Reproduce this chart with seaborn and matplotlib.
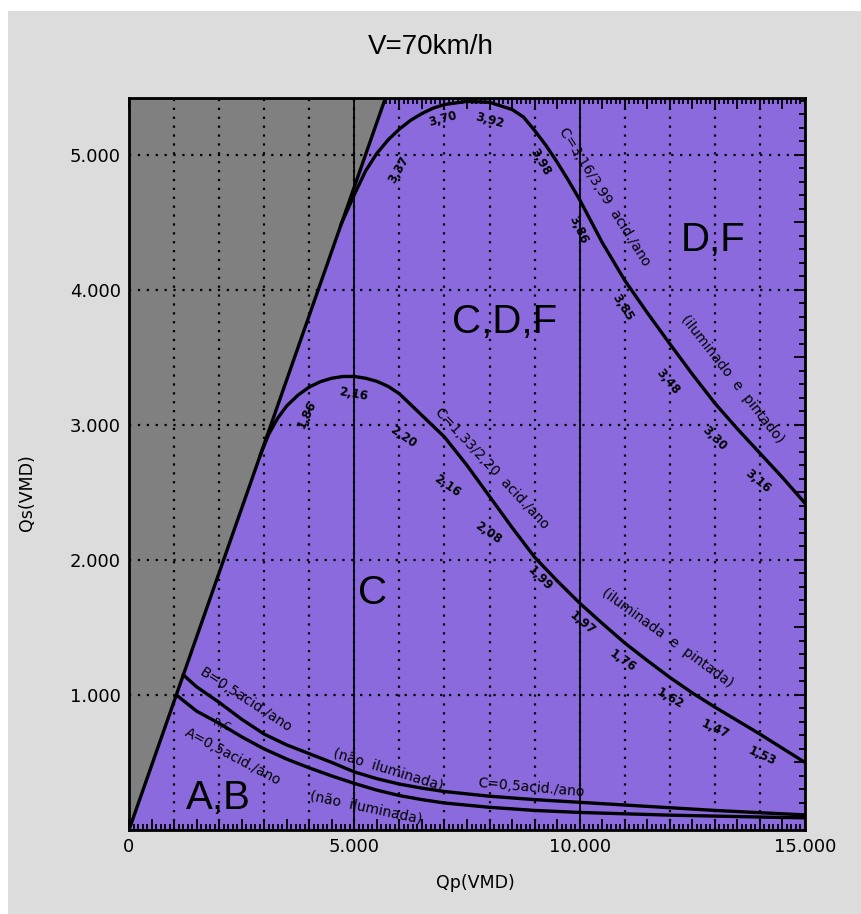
import matplotlib
matplotlib.use("Agg")
import matplotlib.pyplot as plt
import seaborn as sns
import pandas as pd
from matplotlib.ticker import MultipleLocator, FuncFormatter
from matplotlib.patches import Rectangle

# boundary of the grey (infeasible) zone, Qs vs Qp
boundary_qp = [0, 5690]
boundary_qs = [0, 5420]

# C = 3,16/3,99 acid./ano (iluminado e pintado)
upper_qp = [4700, 5000, 5250, 5500, 5750, 6000, 6250, 6500, 6750, 7000, 7500, 8000,
            8500, 8750, 9000, 9250, 9500, 9750, 10000, 10500, 11000, 11500, 12000,
            12500, 13000, 13500, 14000, 14500, 15000]
upper_qs = [4480, 4705, 4880, 5010, 5110, 5190, 5255, 5305, 5345, 5372, 5395, 5388,
            5335, 5280, 5180, 5070, 4945, 4810, 4667, 4350, 4070, 3830, 3600,
            3375, 3160, 2970, 2790, 2610, 2420]

# C = 1,33/2,20 acid./ano (iluminada e pintada)
lower_qp = [2900, 3100, 3300, 3500, 3750, 4000, 4250, 4500, 4750, 5000, 5250, 5500,
            5750, 6000, 6500, 7000, 7500, 8000, 8500, 9000, 9500, 10000, 10500,
            11000, 11500, 12000, 12500, 13000, 13500, 14000, 14500, 15000]
lower_qs = [2765, 2930, 3050, 3140, 3220, 3280, 3320, 3345, 3358, 3358, 3345, 3322,
            3285, 3230, 3070, 2910, 2700, 2470, 2240, 2020, 1845, 1680, 1530,
            1385, 1255, 1130, 1015, 910, 810, 710, 605, 500]

# B = 0,5 acid./ano (nao iluminada)
b_qp = [1200, 1500, 2000, 2500, 3000, 3500, 4000, 4500, 5000, 5500, 6000, 6500,
        7000, 8000, 9000, 10000, 11000, 12000, 13000, 14000, 15000]
b_qs = [1150, 1060, 945, 820, 710, 630, 565, 500, 430, 380, 340, 310,
        285, 250, 225, 205, 185, 165, 145, 128, 112]

# A = 0,5 acid./ano (nao iluminada)
a_qp = [1050, 1500, 2000, 2500, 3000, 3500, 4000, 4500, 5000, 5500, 6000, 6500,
        7000, 8000, 9000, 10000, 12000, 14000, 15000]
a_qs = [1000, 880, 790, 690, 600, 525, 460, 400, 345, 295, 255, 225,
        200, 168, 145, 130, 110, 96, 90]

upper_marks = ["3,37", "3,70", "3,92", "3,98", "3,86", "3,85", "3,48", "3,30", "3,16"]
lower_marks = ["1,86", "2,16", "2,20", "2,16", "2,08", "1,99", "1,97", "1,76", "1,62", "1,47", "1,53"]

PURPLE = "#8a6adc"
GREY = "#808080"
BG = "#dcdcdc"

sns.set_style("ticks", {"axes.facecolor": PURPLE, "axes.edgecolor": "black",
                        "text.color": "black", "xtick.color": "black", "ytick.color": "black"})
plt.rcParams["font.family"] = ["DejaVu Sans"]

fig = plt.figure(figsize=(8.61, 9.14), dpi=100, facecolor="white")
fig.patches.append(Rectangle((8 / 861, 0), 1, 1 - 11 / 914, transform=fig.transFigure,
                             facecolor=BG, edgecolor="none", zorder=-10))
ax = fig.add_axes([129 / 861, 84 / 914, 676 / 861, 732 / 914])

xmax, ymax = 15000, 5420
ax.set_xlim(0, xmax)
ax.set_ylim(0, ymax)

# grey zone left of the boundary
ax.fill_betweenx(boundary_qs, 0, boundary_qp, color=GREY, zorder=1)

# dotted grid, solid lines at 5.000 and 10.000
for gx in range(1000, 15000, 1000):
    ax.axvline(gx, color="black", lw=1.6, ls=(0, (1, 3)), zorder=2)
for gy in range(1000, 6000, 1000):
    ax.axhline(gy, color="black", lw=1.6, ls=(0, (1, 3)), zorder=2)
for sx in (5000, 10000):
    ax.axvline(sx, color="black", lw=1.3, zorder=3)

curves = [(boundary_qp, boundary_qs), (upper_qp, upper_qs), (lower_qp, lower_qs),
          (b_qp, b_qs), (a_qp, a_qs)]
for qp, qs in curves:
    df = pd.DataFrame({"Qp": qp, "Qs": qs})
    sns.lineplot(data=df, x="Qp", y="Qs", ax=ax, color="black", lw=2.4, zorder=4)

# ticks
ax.xaxis.set_major_locator(MultipleLocator(500))
ax.xaxis.set_minor_locator(MultipleLocator(100))
ax.yaxis.set_major_locator(MultipleLocator(500))
ax.yaxis.set_minor_locator(MultipleLocator(100))
fmt = FuncFormatter(lambda v, p: "" if v % 5000 else ("0" if v == 0 else f"{int(v):,}".replace(",", ".")))
yfmt = FuncFormatter(lambda v, p: "" if (v % 1000 or v == 0) else f"{int(v):,}".replace(",", "."))
ax.xaxis.set_major_formatter(fmt)
ax.yaxis.set_major_formatter(yfmt)
ax.tick_params(which="both", direction="in", top=True, right=True, color="black", width=1.3)
ax.tick_params(which="major", length=8, labelsize=13, pad=6, labelcolor="black")
ax.tick_params(which="minor", length=4)
for s in ax.spines.values():
    s.set_linewidth(2)
    s.set_zorder(7)
ax.set_xlabel("")
ax.set_ylabel("")
fig.text(475 / 861, 1 - 883 / 914, "Qp(VMD)", ha="center", va="center", fontsize=12.5, color="black")
fig.text(27 / 861, 1 - 493 / 914, "Qs(VMD)", ha="center", va="center", fontsize=12.5,
         rotation=90, color="black")
fig.text(0.5, 1 - 47 / 914, "V=70km/h", ha="center", va="center", fontsize=20, color="black",
         family=["Liberation Sans Narrow", "Liberation Sans"])

# rate marks along the curves
upper_pos = [(5980, 4890, 60), (6967, 5265, 15), (8000, 5255, -15), (9130, 4950, -60),
             (9960, 4440, -65), (10950, 3870, -58), (11960, 3320, -50), (12980, 2900, -45),
             (13950, 2580, -40)]
lower_pos = [(3950, 3080, 65), (4970, 3230, -10), (6080, 2910, -35), (7056, 2550, -35),
             (7966, 2200, -35), (9120, 1860, -45), (10052, 1530, -40), (10961, 1250, -35),
             (12004, 975, -30), (13003, 750, -25), (14046, 545, -25)]
for txt, (x, y, r) in list(zip(upper_marks, upper_pos)) + list(zip(lower_marks, lower_pos)):
    ax.text(x, y, txt, ha="center", va="center", rotation=r, rotation_mode="anchor",
            fontsize=8.5, fontweight="bold", zorder=8)

notes = [
    ("C=3,16/3,99  acid./ano", 10560, 4690, -58),
    ("(iluminado  e  pintado)", 13380, 3340, -52),
    ("C=1,33/2,20  acid./ano", 8060, 2680, -47),
    ("(iluminada  e  pintada)", 11950, 1420, -36),
    ("B=0,5acid./ano", 2600, 960, -33),
    ("(não  iluminada)", 5747, 450, -17),
    ("A=0,5acid./ano", 2308, 541, -28),
    ("(não  iluminada)", 5259, 163, -12),
    ("C=0,5acid./ano", 8920, 315, -5),
]
for txt, x, y, r in notes:
    ax.text(x, y, txt, ha="center", va="center", rotation=r, rotation_mode="anchor",
            fontsize=10, zorder=8)
ax.text(2064, 778, "R,C", ha="center", va="center", rotation=-20, fontsize=7.5, zorder=8)

regions = [("D,F", 12958, 4370), ("C,D,F", 8343, 3763), ("C", 5414, 1756), ("A,B", 1975, 237)]
for txt, x, y in regions:
    ax.text(x, y, txt, ha="center", va="center", fontsize=29,
            family=["Liberation Sans", "DejaVu Sans"], zorder=8)

fig.savefig("out.png", dpi=100, facecolor=fig.get_facecolor())
